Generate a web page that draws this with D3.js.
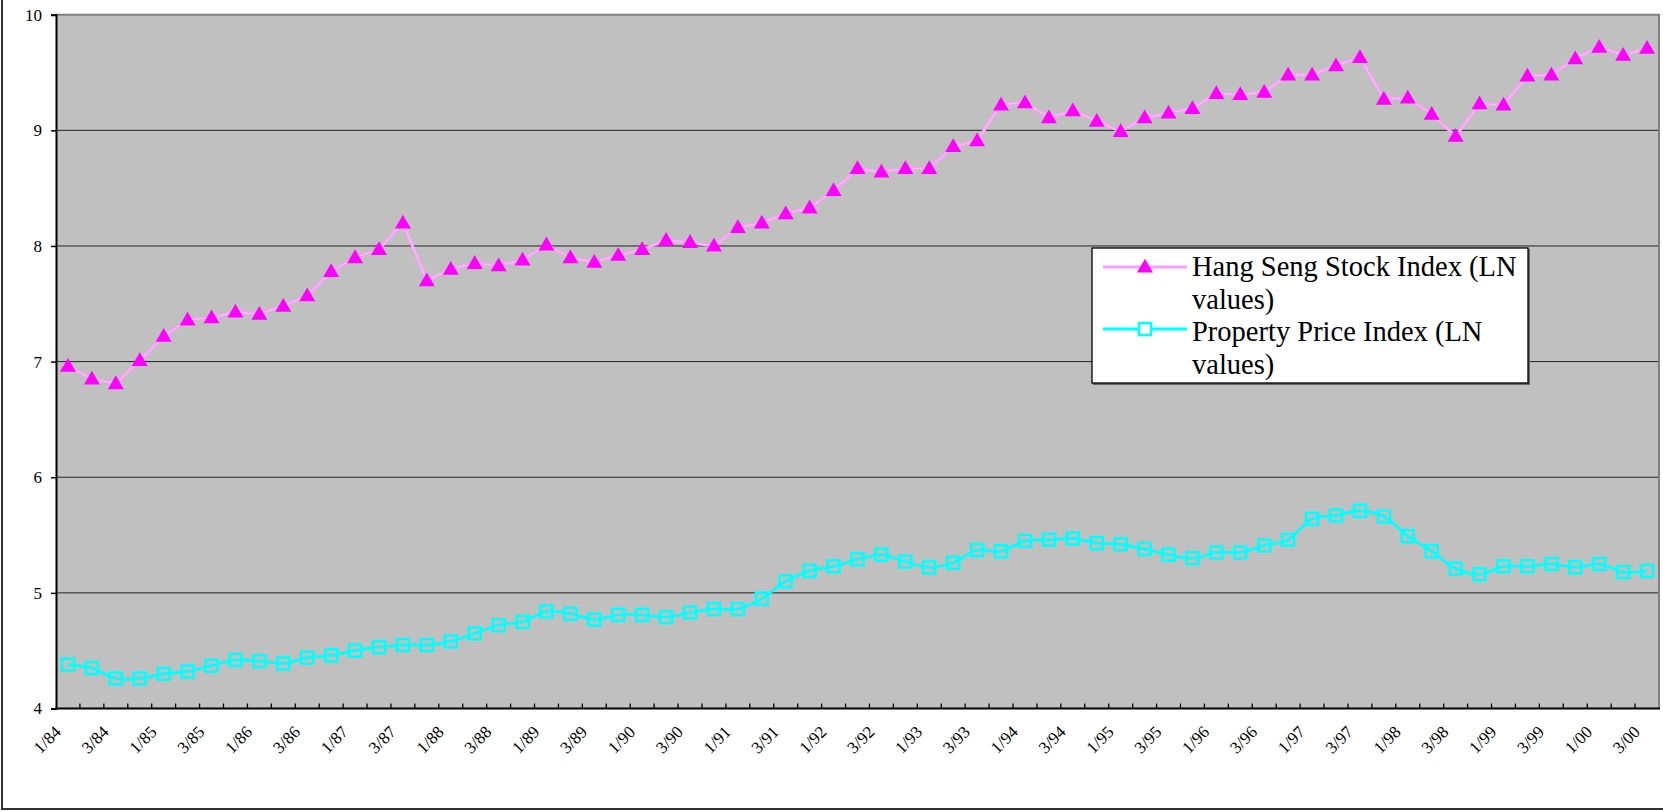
<!DOCTYPE html>
<html>
<head>
<meta charset="utf-8">
<script src="https://cdn.jsdelivr.net/npm/d3@7"></script>
<style>
  html, body { margin: 0; padding: 0; background: #fff; }
  svg { display: block; font-family: "Liberation Serif", "Times New Roman", serif; }
</style>
</head>
<body>
<div id="chart"></div>
<script>
// quarters 1/84 .. 3/00
const quarters = [
  "1/84","2/84","3/84","4/84","1/85","2/85","3/85","4/85","1/86","2/86","3/86","4/86",
  "1/87","2/87","3/87","4/87","1/88","2/88","3/88","4/88","1/89","2/89","3/89","4/89",
  "1/90","2/90","3/90","4/90","1/91","2/91","3/91","4/91","1/92","2/92","3/92","4/92",
  "1/93","2/93","3/93","4/93","1/94","2/94","3/94","4/94","1/95","2/95","3/95","4/95",
  "1/96","2/96","3/96","4/96","1/97","2/97","3/97","4/97","1/98","2/98","3/98","4/98",
  "1/99","2/99","3/99","4/99","1/00","2/00","3/00"
];

const hangSeng = [
  6.96, 6.85, 6.81, 7.01, 7.22, 7.36, 7.38, 7.43, 7.41, 7.48,
  7.57, 7.78, 7.90, 7.97, 8.20, 7.70, 7.80, 7.85, 7.83, 7.88,
  8.01, 7.90, 7.86, 7.92, 7.97, 8.05, 8.03, 8.00, 8.16, 8.20,
  8.28, 8.33, 8.48, 8.67, 8.64, 8.67, 8.67, 8.86, 8.91, 9.22,
  9.24, 9.11, 9.17, 9.08, 8.99, 9.11, 9.15, 9.19, 9.32, 9.31,
  9.33, 9.48, 9.48, 9.56, 9.63, 9.27, 9.28, 9.14, 8.95, 9.23,
  9.22, 9.47, 9.48, 9.62, 9.72, 9.65, 9.71
];

const property = [
  4.38, 4.35, 4.26, 4.26, 4.30, 4.32, 4.37, 4.42, 4.41, 4.39,
  4.44, 4.46, 4.50, 4.53, 4.55, 4.55, 4.58, 4.65, 4.72, 4.75,
  4.84, 4.82, 4.77, 4.81, 4.81, 4.79, 4.83, 4.86, 4.86, 4.95,
  5.10, 5.19, 5.23, 5.29, 5.33, 5.27, 5.22, 5.26, 5.37, 5.36,
  5.45, 5.46, 5.47, 5.43, 5.42, 5.38, 5.33, 5.30, 5.35, 5.35,
  5.41, 5.46, 5.64, 5.67, 5.71, 5.66, 5.49, 5.36, 5.21, 5.16,
  5.23, 5.23, 5.25, 5.22, 5.25, 5.18, 5.19
];

const yTicks = [4, 5, 6, 7, 8, 9, 10];
const legendLabels = [
  ["Hang Seng Stock Index (LN", "values)"],
  ["Property Price Index (LN", "values)"]
];

const width = 1663;
const height = 811;
const plotLeft = 56, plotRight = 1659, plotTop = 14.7, plotBottom = 708.5;

const svg = d3.select("#chart").append("svg")
  .attr("width", width)
  .attr("height", height);

// outer frame
svg.append("rect")
  .attr("x", 2).attr("y", -10)
  .attr("width", width + 10).attr("height", 819)
  .attr("fill", "#fff")
  .attr("stroke", "#333")
  .attr("stroke-width", 2);

const x = d3.scaleBand()
  .domain(d3.range(quarters.length))
  .range([plotLeft, plotRight])
  .padding(0);

const y = d3.scaleLinear()
  .domain([4, 10])
  .range([plotBottom, plotTop]);

const cx = i => x(i) + x.bandwidth() / 2;

// plot area
svg.append("rect")
  .attr("x", plotLeft).attr("y", plotTop)
  .attr("width", plotRight - plotLeft).attr("height", plotBottom - plotTop)
  .attr("fill", "#c0c0c0");

// gridlines
svg.append("g")
  .selectAll("line")
  .data(yTicks.filter(d => d > 4 && d < 10))
  .enter().append("line")
  .attr("x1", plotLeft).attr("x2", plotRight)
  .attr("y1", d => y(d)).attr("y2", d => y(d))
  .attr("stroke", "#222")
  .attr("stroke-width", 1);

// top + right border
svg.append("path")
  .attr("d", `M${plotLeft},${y(10)}H${plotRight}V${plotBottom}`)
  .attr("fill", "none")
  .attr("stroke", "#808080")
  .attr("stroke-width", 2);

// y axis
const yAxis = d3.axisLeft(y)
  .tickValues(yTicks)
  .tickSize(5)
  .tickPadding(9)
  .tickFormat(d3.format("d"));

const gy = svg.append("g")
  .attr("transform", `translate(${plotLeft},0)`)
  .call(yAxis);
gy.select(".domain").attr("stroke", "#000").attr("stroke-width", 2);
gy.selectAll(".tick line").attr("stroke", "#000").attr("stroke-width", 1.5);
gy.selectAll(".tick text")
  .attr("fill", "#000")
  .style("font-family", '"Liberation Serif", "Times New Roman", serif')
  .style("font-size", "17px");

// x axis: ticks at band boundaries pointing inward
const gx = svg.append("g");
gx.selectAll("line.tk")
  .data(d3.range(1, quarters.length))
  .enter().append("line")
  .attr("class", "tk")
  .attr("x1", i => x(i)).attr("x2", i => x(i))
  .attr("y1", plotBottom).attr("y2", plotBottom - 5)
  .attr("stroke", "#000")
  .attr("stroke-width", 1.3);
gx.append("line")
  .attr("x1", plotLeft - 1).attr("x2", plotRight + 1)
  .attr("y1", plotBottom).attr("y2", plotBottom)
  .attr("stroke", "#000")
  .attr("stroke-width", 2);

gx.selectAll("text")
  .data(quarters.map((q, i) => ({ q, i })).filter(d => d.i % 2 === 0))
  .enter().append("text")
  .attr("transform", d => `translate(${cx(d.i) - 6},${plotBottom + 24.5}) rotate(-45)`)
  .attr("text-anchor", "end")
  .style("font-size", "17px")
  .attr("fill", "#000")
  .text(d => d.q);

// property line (smoothed)
const propLine = d3.line()
  .x((d, i) => cx(i))
  .y(d => y(d))
  .curve(d3.curveCatmullRom.alpha(0.5));

svg.append("path")
  .datum(property)
  .attr("d", propLine)
  .attr("fill", "none")
  .attr("stroke", "#00ffff")
  .attr("stroke-width", 2.8);

svg.append("g")
  .selectAll("rect")
  .data(property)
  .enter().append("rect")
  .attr("x", (d, i) => cx(i) - 6)
  .attr("y", d => y(d) - 6)
  .attr("width", 12).attr("height", 12)
  .attr("fill", "none")
  .attr("stroke", "#00ffff")
  .attr("stroke-width", 2.5);

// hang seng line
const hsLine = d3.line()
  .x((d, i) => cx(i))
  .y(d => y(d));

svg.append("path")
  .datum(hangSeng)
  .attr("d", hsLine)
  .attr("fill", "none")
  .attr("stroke", "#ff9cff")
  .attr("stroke-width", 3.2);
svg.append("path")
  .datum(hangSeng)
  .attr("d", hsLine)
  .attr("fill", "none")
  .attr("stroke", "#ffd8ff")
  .attr("stroke-width", 1)
  .attr("stroke-dasharray", "2,1");

const tri = d3.symbol().type(d3.symbolTriangle).size(110);
svg.append("g")
  .selectAll("path")
  .data(hangSeng)
  .enter().append("path")
  .attr("d", tri)
  .attr("transform", (d, i) => `translate(${cx(i)},${y(d) + 1})`)
  .attr("fill", "#ff00ff");

// legend
const lg = svg.append("g");
lg.append("rect")
  .attr("x", 1093).attr("y", 249)
  .attr("width", 437).attr("height", 136)
  .attr("fill", "#666");
lg.append("rect")
  .attr("x", 1092).attr("y", 248)
  .attr("width", 436).attr("height", 135)
  .attr("fill", "#fff")
  .attr("stroke", "#000")
  .attr("stroke-width", 1.3);

const lgRows = [
  { ly: 267, base: 276, color: "#ff9cff", type: "tri" },
  { ly: 329, base: 341, color: "#00ffff", type: "sq" }
];
lgRows.forEach((r, k) => {
  lg.append("line")
    .attr("x1", 1103).attr("x2", 1187)
    .attr("y1", r.ly).attr("y2", r.ly)
    .attr("stroke", r.color)
    .attr("stroke-width", 3);
  if (r.type === "tri") {
    lg.append("path")
      .attr("d", tri)
      .attr("transform", `translate(1145,${r.ly + 1})`)
      .attr("fill", "#ff00ff");
  } else {
    lg.append("rect")
      .attr("x", 1139).attr("y", r.ly - 6)
      .attr("width", 12).attr("height", 12)
      .attr("fill", "#fff")
      .attr("stroke", "#00ffff")
      .attr("stroke-width", 2.5);
  }
  const t = lg.append("text")
    .attr("x", 1192).attr("y", r.base)
    .style("font-size", "28.5px")
    .attr("fill", "#000");
  legendLabels[k].forEach((s, j) => {
    t.append("tspan")
      .attr("x", 1192)
      .attr("dy", j === 0 ? 0 : 33)
      .text(s);
  });
});
</script>
</body>
</html>
